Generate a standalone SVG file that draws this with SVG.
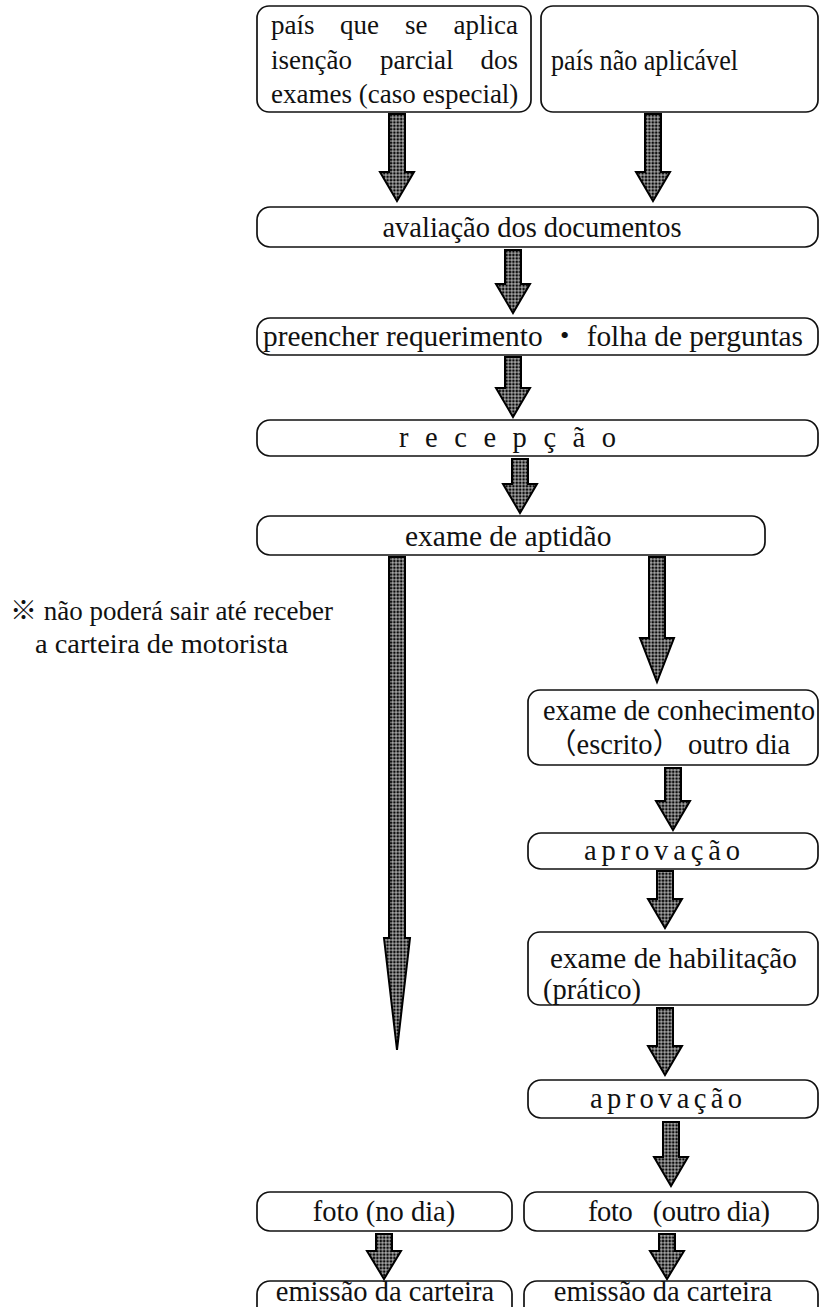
<svg xmlns="http://www.w3.org/2000/svg" width="834" height="1307" viewBox="0 0 834 1307">
<defs>
<pattern id="grid" width="3.4" height="3.4" patternUnits="userSpaceOnUse">
<rect width="3.4" height="3.4" fill="#0a0a0a"/>
<path d="M0 1.7H3.4M1.7 0V3.4" stroke="#eeeeee" stroke-width="0.7"/>
</pattern>
<style>
.box{fill:#fff;stroke:#111;stroke-width:1.7}
.t{font-family:"Liberation Serif","Noto Sans CJK JP",serif;font-size:28.5px;fill:#111}
.s{font-size:27px}
.arr{fill:url(#grid);stroke:#000;stroke-width:2;stroke-linejoin:miter}
</style>
</defs>
<rect width="834" height="1307" fill="#fff"/>

<g id="connectors">
<path class="arr" d="M389 114H405V172H414L397 201L380 172H389Z"/>
<path class="arr" d="M645 114H661V172H670L653 201L636 172H645Z"/>
<path class="arr" d="M505 250H521V284H530L513 313L496 284H505Z"/>
<path class="arr" d="M505 357H521V388H530L513 417L496 388H505Z"/>
<path class="arr" d="M512 459H528V484H537L520 513L503 484H512Z"/>
<path class="arr" d="M389 557H405V938H410L397 1050L384 938H389Z"/>
<path class="arr" d="M649 557H665V638H674L657 682L640 638H649Z"/>
<path class="arr" d="M665 768H681V801H690L673 830L656 801H665Z"/>
<path class="arr" d="M657 871H673V899H682L665 928L648 899H657Z"/>
<path class="arr" d="M657 1008H673V1046H682L665 1075L648 1046H657Z"/>
<path class="arr" d="M663 1122H679V1157H688L671 1186L654 1157H663Z"/>
<path class="arr" d="M376 1234H392V1251H401L384 1279L367 1251H376Z"/>
<path class="arr" d="M659 1234H675V1251H684L667 1279L650 1251H659Z"/>
</g>

<g id="n1">
<rect class="box" x="257" y="6" width="274" height="106" rx="12"/>
<text class="t s"><tspan x="271" y="34">país</tspan><tspan x="340" y="34">que</tspan><tspan x="405" y="34">se</tspan><tspan x="518" y="34" text-anchor="end">aplica</tspan></text>
<text class="t s"><tspan x="271" y="69">isenção</tspan><tspan x="380" y="69">parcial</tspan><tspan x="518" y="69" text-anchor="end">dos</tspan></text>
<text class="t s" x="271" y="103">exames (caso especial)</text>
</g>
<g id="n2">
<rect class="box" x="541" y="6" width="277" height="106" rx="12"/>
<text class="t" x="551" y="70" textLength="187" lengthAdjust="spacingAndGlyphs">país não aplicável</text>
</g>
<g id="n3">
<rect class="box" x="257" y="207" width="561" height="40" rx="13"/>
<text class="t" x="532" y="237" text-anchor="middle">avaliação dos documentos</text>
</g>
<g id="n4">
<rect class="box" x="257" y="318" width="561" height="37" rx="13"/>
<text class="t" x="263" y="346" textLength="540" lengthAdjust="spacingAndGlyphs">preencher requerimento ・ folha de perguntas</text>
</g>
<g id="n5">
<rect class="box" x="257" y="420" width="561" height="36" rx="13"/>
<text class="t" x="399" y="447" textLength="217" lengthAdjust="spacing">r e c e p ç ã o</text>
</g>
<g id="n6">
<rect class="box" x="257" y="516" width="508" height="39" rx="13"/>
<text class="t" x="405" y="546" style="font-size:29.5px">exame de aptidão</text>
</g>
<g id="note">
<text class="t" x="10" y="620" style="font-size:27.5px" textLength="323" lengthAdjust="spacingAndGlyphs">※ não poderá sair até receber</text>
<text class="t" x="35" y="653" style="font-size:27.5px" textLength="253" lengthAdjust="spacingAndGlyphs">a carteira de motorista</text>
</g>
<g id="n7">
<rect class="box" x="528" y="690" width="290" height="75" rx="12"/>
<text class="t" x="543" y="720" textLength="272" lengthAdjust="spacingAndGlyphs">exame de conhecimento</text>
<text class="t" x="548" y="754">（escrito） outro dia</text>
</g>
<g id="n8">
<rect class="box" x="528" y="833" width="290" height="36" rx="13"/>
<text class="t" x="584" y="860" textLength="156" lengthAdjust="spacing">aprovação</text>
</g>
<g id="n9">
<rect class="box" x="528" y="932" width="290" height="73" rx="12"/>
<text class="t" x="550" y="968" textLength="247" lengthAdjust="spacingAndGlyphs">exame de habilitação</text>
<text class="t" x="543" y="999">(prático)</text>
</g>
<g id="n10">
<rect class="box" x="528" y="1080" width="290" height="38" rx="13"/>
<text class="t" x="590" y="1108" textLength="152" lengthAdjust="spacing">aprovação</text>
</g>
<g id="n11">
<rect class="box" x="257" y="1192" width="255" height="39" rx="13"/>
<text class="t" x="384" y="1221" text-anchor="middle">foto (no dia)</text>
</g>
<g id="n12">
<rect class="box" x="524" y="1192" width="294" height="39" rx="13"/>
<text class="t" x="588" y="1221" textLength="182" lengthAdjust="spacing" xml:space="preserve">foto   (outro dia)</text>
</g>
<g id="n13">
<rect class="box" x="257" y="1281" width="255" height="44" rx="13"/>
<text class="t" x="385" y="1301" text-anchor="middle">emissão da carteira</text>
</g>
<g id="n14">
<rect class="box" x="524" y="1281" width="294" height="44" rx="13"/>
<text class="t" x="663" y="1301" text-anchor="middle">emissão da carteira</text>
</g>
</svg>
